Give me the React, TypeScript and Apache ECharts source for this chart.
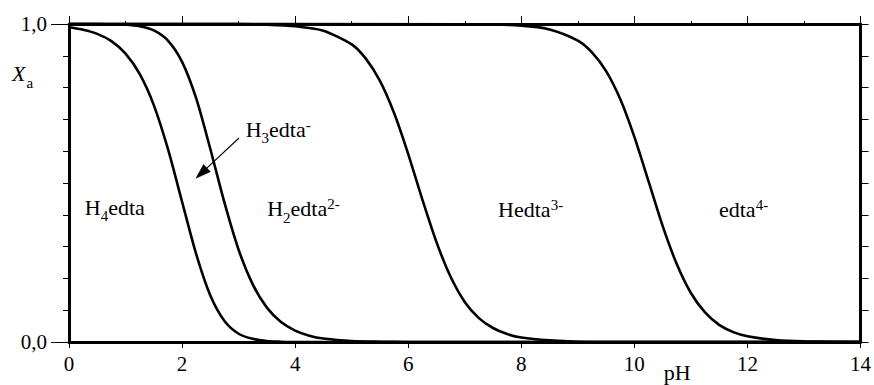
import React, { useEffect, useRef } from "react";
import * as echarts from "echarts";

// Cumulative mole fractions of the EDTA species versus pH
const PH_A = [0, 0.25, 0.5, 0.75, 1, 1.25, 1.5, 1.75, 2, 2.25, 2.5, 2.75, 3, 3.25, 3.5, 3.75, 4, 4.25, 4.5, 5, 5.5, 6, 7, 14];
const X_H4EDTA = [0.99, 0.982, 0.969, 0.946, 0.907, 0.843, 0.745, 0.607, 0.441, 0.276, 0.146, 0.066, 0.026, 0.01, 0.003, 0.001, 0.0, 0, 0, 0, 0, 0, 0, 0];
const X_H3EDTA = [1.0, 1.0, 1.0, 0.999, 0.998, 0.993, 0.98, 0.948, 0.881, 0.766, 0.607, 0.438, 0.29, 0.181, 0.108, 0.063, 0.036, 0.02, 0.011, 0.003, 0.001, 0.0, 0, 0];

const PH_B = [0, 3, 3.5, 4, 4.5, 5, 5.25, 5.5, 5.75, 6, 6.25, 6.5, 6.75, 7, 7.25, 7.5, 7.75, 8, 8.5, 9, 10, 14];
const X_H2EDTA = [1.0, 1.0, 0.998, 0.993, 0.979, 0.936, 0.891, 0.821, 0.72, 0.591, 0.448, 0.314, 0.205, 0.126, 0.075, 0.044, 0.025, 0.014, 0.005, 0.001, 0.0, 0];

const PH_C = [0, 7, 8, 8.5, 9, 9.25, 9.5, 9.75, 10, 10.25, 10.5, 10.75, 11, 11.25, 11.5, 11.75, 12, 12.5, 13, 14];
const X_HEDTA = [1.0, 0.999, 0.995, 0.983, 0.948, 0.911, 0.852, 0.764, 0.645, 0.506, 0.365, 0.245, 0.154, 0.093, 0.054, 0.031, 0.018, 0.006, 0.002, 0.0];

const X_TICKS = [0, 2, 4, 6, 8, 10, 12, 14];
const Y_TICK_LABELS = ["0,0", "1,0"];

// Species labels: parts are [text, 0 normal | -1 subscript | 1 superscript]
type Part = [string, number];
const SPECIES: { parts: Part[]; pH: number; xa: number }[] = [
  { parts: [["H", 0], ["4", -1], ["edta", 0]], pH: 0.28, xa: 0.401 },
  { parts: [["H", 0], ["3", -1], ["edta", 0], ["-", 1]], pH: 3.125, xa: 0.645 },
  { parts: [["H", 0], ["2", -1], ["edta", 0], ["2-", 1]], pH: 3.505, xa: 0.396 },
  { parts: [["Hedta", 0], ["3-", 1]], pH: 7.59, xa: 0.393 },
  { parts: [["edta", 0], ["4-", 1]], pH: 11.497, xa: 0.393 },
];
// arrow pointing at the H3edta- band
const ARROW_FROM = [3.007, 0.6415];
const ARROW_TO = [2.246, 0.5148];

const FONT = "Liberation Serif";

export default function App() {
  const ref = useRef<HTMLDivElement>(null);

  useEffect(() => {
    const el = ref.current!;
    const chart = echarts.init(el, null, { renderer: "svg" });

    const axisLine = { show: true, onZero: false, lineStyle: { color: "#000", width: 3 } };
    const tickStyle = { color: "#000", width: 1 };

    const mk = (name: string, xs: number[], ys: number[]) => ({
      name,
      type: "line",
      data: xs.map((x, i) => [x, ys[i]]),
      smooth: 0.25,
      symbol: "none",
      showSymbol: false,
      clip: false,
      lineStyle: { color: "#000", width: 2.6 },
      silent: true,
      xAxisIndex: 0,
      yAxisIndex: 0,
    });

    chart.setOption({
      animation: false,
      backgroundColor: "#fff",
      textStyle: { fontFamily: FONT },
      grid: { left: 69, top: 24, width: 796, height: 318, containLabel: false },
      xAxis: [
        {
          type: "value",
          position: "bottom",
          min: 0,
          max: 14,
          interval: 2,
          axisLine,
          axisTick: { show: true, inside: false, length: 6, lineStyle: tickStyle },
          minorTick: { show: true, splitNumber: 2, length: 2, lineStyle: tickStyle },
          axisLabel: {
            show: true,
            color: "#000",
            fontFamily: FONT,
            fontSize: 21,
            margin: 11,
            formatter: (v: number) => {
              const i = X_TICKS.indexOf(v);
              return i >= 0 ? String(X_TICKS[i]) : "";
            },
          },
          splitLine: { show: false },
          minorSplitLine: { show: false },
        },
        {
          type: "value",
          position: "top",
          min: 0,
          max: 14,
          interval: 2,
          axisLine,
          axisTick: { show: true, inside: false, length: 8, lineStyle: tickStyle },
          minorTick: { show: true, splitNumber: 2, length: 3, lineStyle: tickStyle },
          axisLabel: { show: false },
          splitLine: { show: false },
          minorSplitLine: { show: false },
        },
      ],
      yAxis: [
        {
          type: "value",
          position: "left",
          min: 0,
          max: 1,
          interval: 1,
          axisLine,
          axisTick: { show: true, inside: false, length: 18, lineStyle: tickStyle },
          minorTick: { show: true, splitNumber: 10, length: 6, lineStyle: tickStyle },
          axisLabel: {
            show: true,
            color: "#000",
            fontFamily: FONT,
            fontSize: 21,
            margin: 22,
            formatter: (v: number) => Y_TICK_LABELS[Math.round(v)] ?? "",
          },
          splitLine: { show: false },
          minorSplitLine: { show: false },
        },
        {
          type: "value",
          position: "right",
          min: 0,
          max: 1,
          interval: 1,
          axisLine,
          axisTick: { show: true, inside: false, length: 8, lineStyle: tickStyle },
          minorTick: { show: true, splitNumber: 10, length: 8, lineStyle: tickStyle },
          axisLabel: { show: false },
          splitLine: { show: false },
          minorSplitLine: { show: false },
        },
      ],
      series: [
        mk("H4edta", PH_A, X_H4EDTA),
        mk("H4edta + H3edta-", PH_A, X_H3EDTA),
        mk("H4edta + H3edta- + H2edta2-", PH_B, X_H2EDTA),
        mk("H4edta + H3edta- + H2edta2- + Hedta3-", PH_C, X_HEDTA),
      ],
    });

    const toPx = (x: number, y: number) =>
      chart.convertToPixel({ seriesIndex: 0 }, [x, y]) as number[];

    const canvas = document.createElement("canvas");
    const ctx = canvas.getContext("2d")!;
    const measure = (t: string, size: number, italic = false) => {
      ctx.font = `${italic ? "italic " : ""}${size}px ${FONT}`;
      return ctx.measureText(t).width;
    };
    const CENTRAL = 0.3375; // central baseline offset above alphabetic baseline (em)

    const textEl = (t: string, x: number, baseline: number, size: number, italic = false) => ({
      type: "text",
      x,
      y: baseline - CENTRAL * size,
      silent: true,
      z: 10,
      style: {
        text: t,
        fontSize: size,
        fontFamily: FONT,
        fontStyle: italic ? "italic" : "normal",
        fill: "#000",
        textAlign: "left",
        textVerticalAlign: "middle",
        align: "left",
        verticalAlign: "middle",
      },
    });

    const MAIN = 22;
    const SMALL = 15;
    const graphics: any[] = [];

    const addParts = (parts: Part[], x0: number, base: number, italicFirst = false) => {
      let x = x0;
      parts.forEach(([t, kind], i) => {
        const size = kind === 0 ? MAIN : SMALL;
        const shift = kind === -1 ? 6.5 : kind === 1 ? -7 : 0;
        const it = italicFirst && i === 0;
        graphics.push(textEl(t, x, base + shift, size, it));
        x += measure(t, size, it) + (it ? 1 : 0);
      });
    };

    SPECIES.forEach((s) => {
      const [px, py] = toPx(s.pH, s.xa);
      addParts(s.parts, px, py);
    });

    // y-axis name X_a
    const [gx0, gy1] = toPx(0, 0.82);
    addParts([["X", 0], ["a", -1]], gx0 - 57, gy1, true);

    // x-axis name pH
    const [phx, phy] = toPx(10.52, 0);
    addParts([["pH", 0]], phx, phy + 37.5);

    // arrow
    const [ax, ay] = toPx(ARROW_FROM[0], ARROW_FROM[1]);
    const [bx, by] = toPx(ARROW_TO[0], ARROW_TO[1]);
    const dx = bx - ax;
    const dy = by - ay;
    const len = Math.hypot(dx, dy);
    const ux = dx / len;
    const uy = dy / len;
    const headL = 15;
    const headW = 5;
    const baseX = bx - ux * headL;
    const baseY = by - uy * headL;
    graphics.push({
      type: "line",
      silent: true,
      z: 10,
      shape: { x1: ax, y1: ay, x2: baseX + ux * 2, y2: baseY + uy * 2 },
      style: { stroke: "#000", lineWidth: 1.1 },
    });
    graphics.push({
      type: "polygon",
      silent: true,
      z: 10,
      shape: {
        points: [
          [bx, by],
          [baseX - uy * headW, baseY + ux * headW],
          [baseX + uy * headW, baseY - ux * headW],
        ],
      },
      style: { fill: "#000", stroke: "#000", lineWidth: 0.5 },
    });

    chart.setOption({ graphic: graphics });

    return () => chart.dispose();
  }, []);

  return (
    <div
      ref={ref}
      style={{ position: "fixed", left: 0, top: 0, width: 874, height: 385, background: "#fff" }}
    />
  );
}
